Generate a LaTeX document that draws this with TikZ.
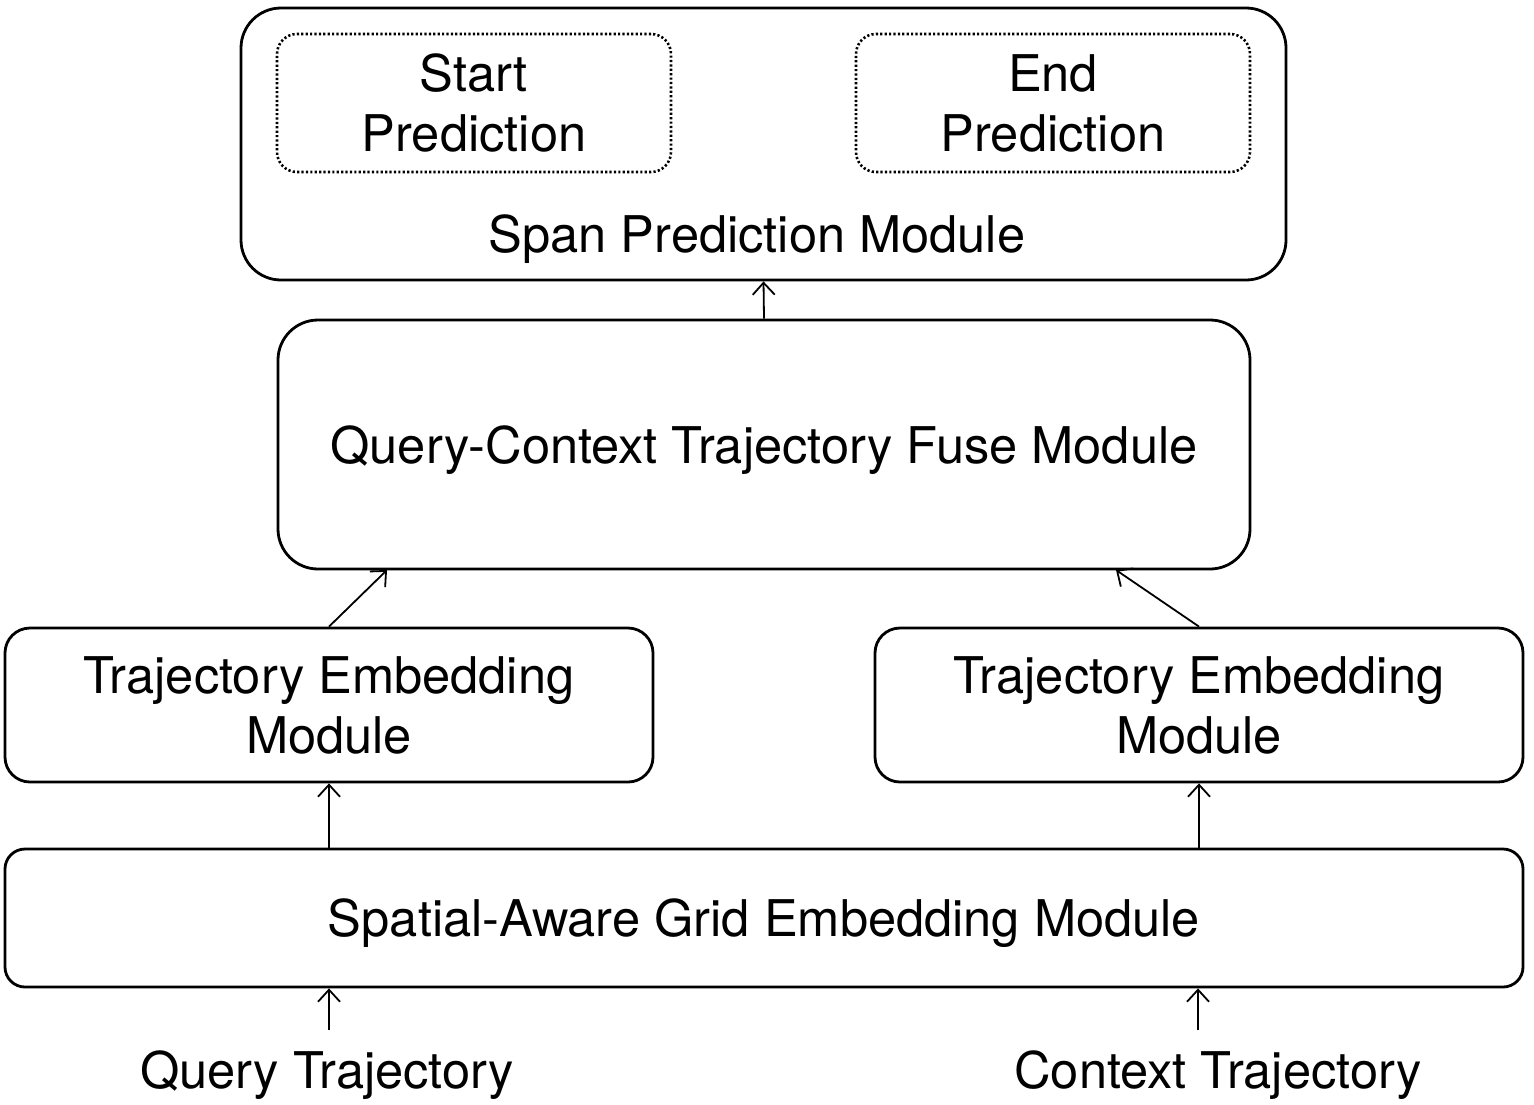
\documentclass[tikz,border=0pt]{standalone}
\usepackage{fontspec}
\setmainfont{TeX Gyre Heros}
\usetikzlibrary{arrows.meta}
\begin{document}
\begin{tikzpicture}[x=0.5pt,y=-0.5pt,
  box/.style={draw,line width=1.4pt,inner sep=0pt,align=center},
  dotbox/.style={draw,line width=1.3pt,dash pattern=on 1.1pt off 1.1pt,rounded corners=10pt,inner sep=0pt,align=center,minimum width=197pt,minimum height=69pt},
  lbl/.style={align=center,inner sep=0pt},
  arr/.style={line width=0.9pt,-{Straight Barb[length=6pt,width=11pt]}}]
\useasboundingbox (0,0) rectangle (1534,1104);
\tikzset{every node/.append style={font=\fontsize{25.3}{30}\selectfont}}
% span box
\node[box,rounded corners=20pt,minimum width=522.5pt,minimum height=136pt] (span) at (763.5,144) {};
\node[dotbox] (start) at (474,103) {Start\\Prediction};
\node[dotbox] (end) at (1053,103) {End\\Prediction};
\node[lbl,anchor=base] (spanlbl) at (757,252) {Span Prediction Module};
% fuse
\node[box,rounded corners=20pt,minimum width=486pt,minimum height=124.5pt,text depth=0pt] (fuse) at (764,444.5) {Query-Context Trajectory Fuse Module};
% trajectory embedding
\node[box,rounded corners=12.5pt,minimum width=324pt,minimum height=77pt] (temL) at (329,705) {Trajectory Embedding\\Module};
\node[box,rounded corners=12.5pt,minimum width=324pt,minimum height=77pt] (temR) at (1199,705) {Trajectory Embedding\\Module};
% grid
\node[box,rounded corners=10pt,minimum width=759pt,minimum height=69pt,text depth=0pt] (grid) at (764,918) {Spatial-Aware Grid Embedding Module};
% inputs
\node[lbl,anchor=base] (q) at (327,1088) {Query Trajectory};
\node[lbl,anchor=base] (c) at (1218,1088) {Context Trajectory};
% coordinates
\coordinate (fL) at (387,570);
\coordinate (fR) at (1116,570);
\coordinate (qa) at (329,1030);
\coordinate (ca) at (1198,1030);
% arrows
\draw[arr] (fuse.north) -- (span.south);
\draw[arr] (temL.north) -- (fL);
\draw[arr] (temR.north) -- (fR);
\draw[arr] (grid.north -| temL) -- (temL.south);
\draw[arr] (grid.north -| temR) -- (temR.south);
\draw[arr] (qa) -- (qa |- grid.south);
\draw[arr] (ca) -- (ca |- grid.south);
\end{tikzpicture}
\end{document}
